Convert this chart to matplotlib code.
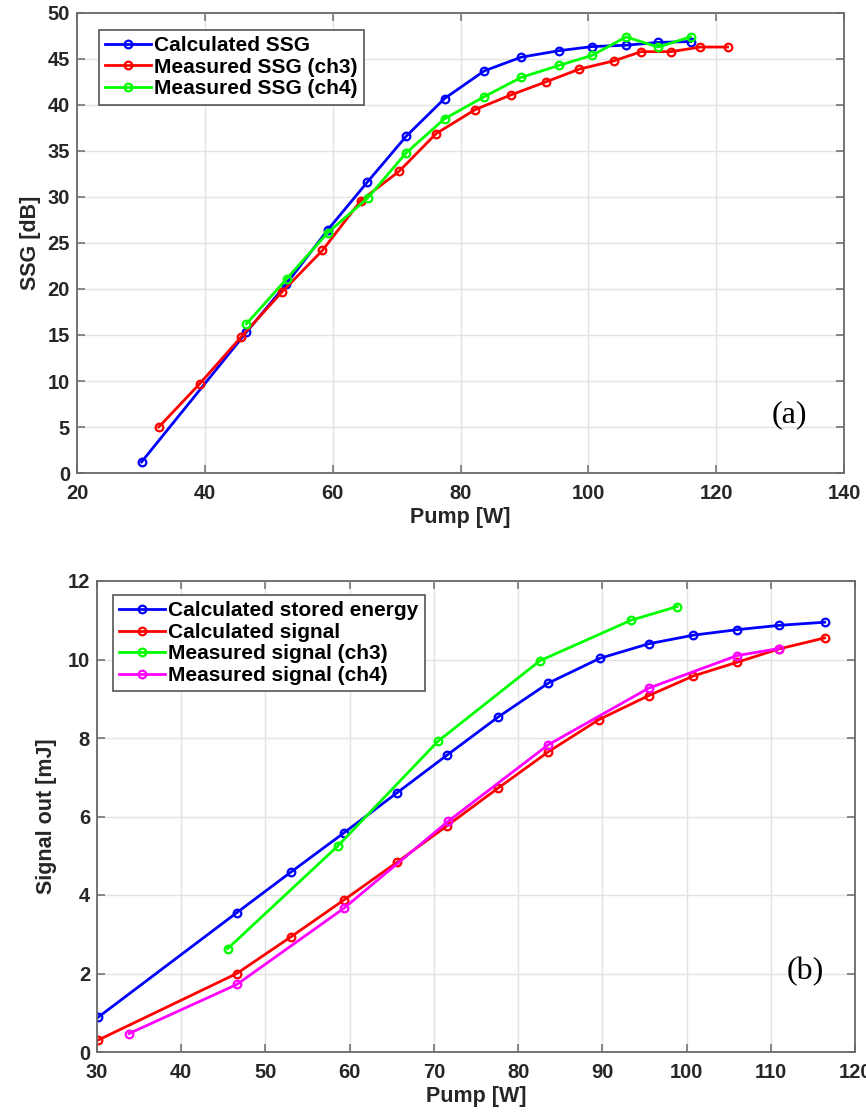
import matplotlib
matplotlib.use("Agg")
import matplotlib.pyplot as plt

# ---------------- data: panel (a) ----------------
calc_ssg_x = [30.1, 46.5, 52.7, 59.2, 65.4, 71.5, 77.5, 83.7, 89.5, 95.4, 100.6, 105.9, 110.9, 116.0]
calc_ssg_y = [1.2, 15.3, 20.5, 26.4, 31.6, 36.6, 40.7, 43.7, 45.2, 45.9, 46.35, 46.5, 46.8, 46.9]
meas_ch3_x = [32.8, 39.2, 45.7, 52.1, 58.4, 64.4, 70.4, 76.2, 82.3, 87.9, 93.3, 98.6, 104.0, 108.3, 113.0, 117.5, 121.8]
meas_ch3_y = [5.0, 9.7, 14.8, 19.7, 24.2, 29.6, 32.8, 36.9, 39.5, 41.1, 42.5, 43.9, 44.8, 45.8, 45.8, 46.3, 46.3]
meas_ch4_x = [46.5, 52.8, 59.2, 65.5, 71.5, 77.5, 83.7, 89.5, 95.4, 100.6, 105.9, 110.9, 116.0]
meas_ch4_y = [16.2, 21.1, 26.1, 29.9, 34.8, 38.5, 40.9, 43.0, 44.3, 45.4, 47.4, 46.3, 47.4]
labels_a = ["Calculated SSG", "Measured SSG (ch3)", "Measured SSG (ch4)"]

# ---------------- data: panel (b) ----------------
stored_x = [30.1, 46.6, 53.0, 59.3, 65.6, 71.6, 77.6, 83.6, 89.7, 95.5, 100.8, 106.0, 111.0, 116.4]
stored_y = [0.88, 3.55, 4.58, 5.58, 6.6, 7.57, 8.53, 9.4, 10.03, 10.4, 10.62, 10.76, 10.87, 10.95]
calc_sig_x = [30.1, 46.6, 53.0, 59.3, 65.6, 71.6, 77.6, 83.6, 89.6, 95.5, 100.8, 106.0, 111.0, 116.4]
calc_sig_y = [0.3, 2.0, 2.93, 3.87, 4.83, 5.77, 6.72, 7.65, 8.47, 9.08, 9.58, 9.93, 10.27, 10.55]
sig_ch3_x = [45.5, 58.6, 70.5, 82.6, 93.4, 98.9]
sig_ch3_y = [2.63, 5.25, 7.92, 9.97, 11.0, 11.35]
sig_ch4_x = [33.8, 46.6, 59.3, 71.7, 83.6, 95.5, 106.0, 111.0]
sig_ch4_y = [0.47, 1.72, 3.66, 5.88, 7.83, 9.27, 10.1, 10.28]
labels_b = ["Calculated stored energy", "Calculated signal",
            "Measured signal (ch3)", "Measured signal (ch4)"]

xticks_a = [20, 40, 60, 80, 100, 120, 140]
yticks_a = [0, 5, 10, 15, 20, 25, 30, 35, 40, 45, 50]
xticks_b = [30, 40, 50, 60, 70, 80, 90, 100, 110, 120]
yticks_b = [0, 2, 4, 6, 8, 10, 12]

plt.rcParams['font.family'] = ['Liberation Sans', 'DejaVu Sans']
plt.rcParams['font.weight'] = 'bold'

W, H = 866, 1118
fig = plt.figure(figsize=(W / 100, H / 100), dpi=100)

def px_axes(l, t, r, b):
    return fig.add_axes([l / W, 1 - b / H, (r - l) / W, (b - t) / H])

ax1 = px_axes(77, 13, 844, 473)
ax2 = px_axes(97, 581, 855, 1052)

spine_col = '#6a6a6a'
txt_col = '#262626'
line_kw = dict(lw=2.0, marker='o', ms=5.5, mfc='none', mew=1.6)

def style(ax, xt, yt):
    ax.set_xticks(xt)
    ax.set_yticks(yt)
    ax.grid(True, color='#e3e3e3', lw=1.0)
    ax.set_axisbelow(True)
    for s in ax.spines.values():
        s.set_color(spine_col)
        s.set_linewidth(1.3)
    ax.tick_params(direction='in', length=6, width=1.1, color=spine_col,
                   top=True, right=True, labelsize=14.5, labelcolor=txt_col)
    ax.tick_params(axis='x', pad=8)
    ax.tick_params(axis='y', pad=5)
    for lab in ax.get_xticklabels() + ax.get_yticklabels():
        lab.set_fontweight('bold')

leg_kw = dict(loc='upper left', borderaxespad=0, fancybox=False, edgecolor='#555555',
              framealpha=1, prop=dict(size=15, weight='bold'), handlelength=2.2,
              handletextpad=0.15, labelspacing=0.12, borderpad=0.3)

# panel (a)
ax1.plot(calc_ssg_x, calc_ssg_y, color='#0000ff', label=labels_a[0], **line_kw)
ax1.plot(meas_ch3_x, meas_ch3_y, color='#ff0000', label=labels_a[1], **line_kw)
ax1.plot(meas_ch4_x, meas_ch4_y, color='#00ff00', label=labels_a[2], **line_kw)
ax1.set_xlim(20, 140)
ax1.set_ylim(0, 50)
style(ax1, xticks_a, yticks_a)
ax1.set_xlabel("Pump [W]", fontsize=15.5, fontweight='bold', color=txt_col, labelpad=3)
ax1.set_ylabel("SSG [dB]", fontsize=15.5, fontweight='bold', color=txt_col, labelpad=5)
leg1 = ax1.legend(bbox_to_anchor=(0.0287, 0.963), **leg_kw)
leg1.get_frame().set_linewidth(1.2)
ax1.text(131.5, 6.3, "(a)", fontsize=23, family=['Liberation Serif', 'DejaVu Serif'],
         fontweight='normal', ha='center', va='center', color='black')

# panel (b)
ax2.plot(stored_x, stored_y, color='#0000ff', label=labels_b[0], **line_kw)
ax2.plot(calc_sig_x, calc_sig_y, color='#ff0000', label=labels_b[1], **line_kw)
ax2.plot(sig_ch3_x, sig_ch3_y, color='#00ff00', label=labels_b[2], **line_kw)
ax2.plot(sig_ch4_x, sig_ch4_y, color='#ff00ff', label=labels_b[3], **line_kw)
ax2.set_xlim(30, 120)
ax2.set_ylim(0, 12)
style(ax2, xticks_b, yticks_b)
ax2.set_xlabel("Pump [W]", fontsize=15.5, fontweight='bold', color=txt_col, labelpad=3)
ax2.set_ylabel("Signal out [mJ]", fontsize=15.5, fontweight='bold', color=txt_col, labelpad=8)
leg2 = ax2.legend(bbox_to_anchor=(0.0211, 0.970), **leg_kw)
leg2.get_frame().set_linewidth(1.2)
ax2.text(114.1, 2.05, "(b)", fontsize=23, family=['Liberation Serif', 'DejaVu Serif'],
         fontweight='normal', ha='center', va='center', color='black')

fig.savefig("out.png", dpi=100)
